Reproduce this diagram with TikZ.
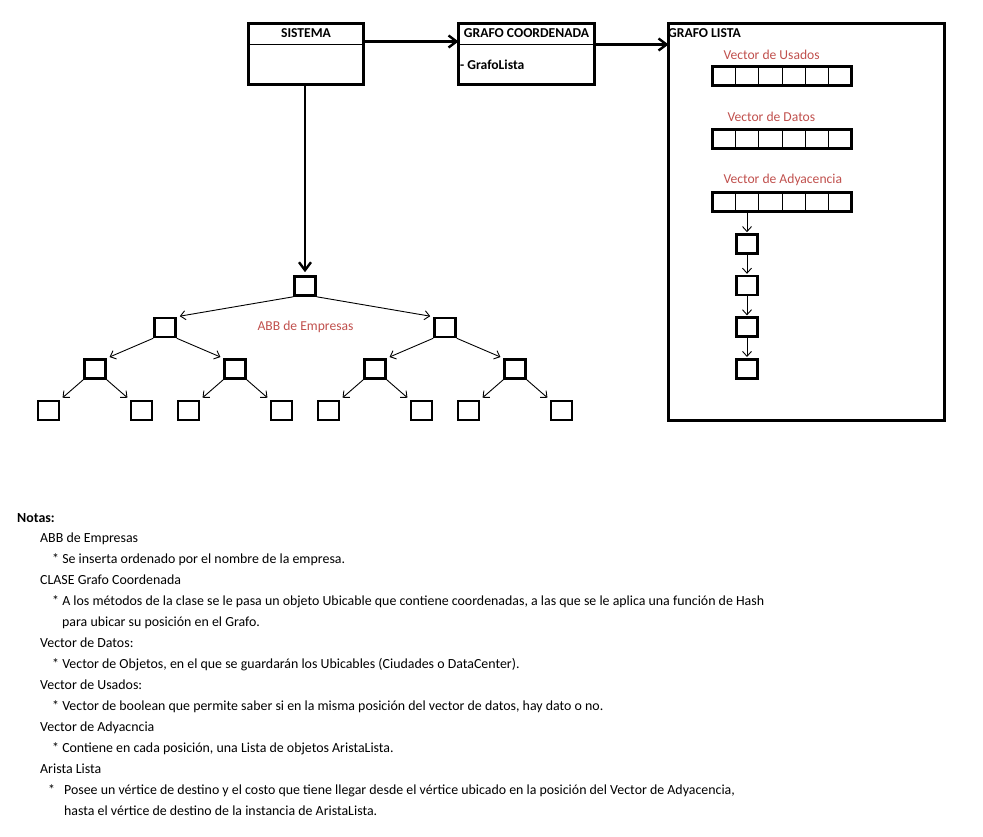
\documentclass[tikz,border=0pt]{standalone}
\usepackage{fontspec}
\setmainfont{Carlito}
\usetikzlibrary{positioning,calc,arrows.meta}

\definecolor{rojoetiq}{RGB}{192,80,77}

\tikzset{
    caja/.style={draw, line width=2.6pt, minimum width=21pt, minimum height=19pt, inner sep=0pt},
    clase/.style={draw, line width=2.7pt, outer sep=0pt, inner sep=0pt},
    vector/.style={draw, line width=2.7pt, outer sep=0pt, inner sep=0pt, minimum width=139pt, minimum height=19pt},
    titulo/.style={font=\fontsize{13.6}{16}\selectfont\bfseries},
    etiqueta/.style={text=rojoetiq, anchor=west},
    nota/.style={anchor=west, inner sep=0pt, text height=1.5ex, text depth=.25ex, font=\fontsize{13.9}{16}\selectfont},
    flecha/.style={line width=2.4pt, -{Straight Barb[length=8pt,width=12pt]}},
    flechita/.style={line width=0.9pt, -{Straight Barb[length=5pt,width=9pt]}},
    izq/.style={edge from parent path={(\tikzparentnode.south west) -- (\tikzchildnode.north east)}},
    der/.style={edge from parent path={(\tikzparentnode.south east) -- (\tikzchildnode.north west)}},
}

\begin{document}
\begin{tikzpicture}[
        x=1pt, y=1pt,
        every node/.style={font=\fontsize{13.6}{16}\selectfont},
        edge from parent/.style={draw, flechita, shorten >=3pt},
        level distance=41.5pt,
        level 1/.style={sibling distance=280pt},
        level 2/.style={sibling distance=140pt},
        level 3/.style={sibling distance=93pt},
    ]
    \useasboundingbox (0,0) rectangle (983,-837);

    % clases de arriba
    \node[clase, minimum width=115pt, minimum height=61pt] (sistema) at (306,-54) {};
    \node[titulo] (sistemaT) at ($(sistema.north)+(0,-10)$) {SISTEMA};
    \draw[line width=1.6pt] ($(sistema.north west)+(0,-21)$) -- ($(sistema.north east)+(0,-21)$);

    \node[clase, minimum width=136pt, minimum height=61pt] (grafo) at (526.5,-54) {};
    \node[titulo] (grafoT) at ($(grafo.north)+(0,-10)$) {GRAFO COORDENADA};
    \draw[line width=1.6pt] ($(grafo.north west)+(0,-21)$) -- ($(grafo.north east)+(0,-21)$);
    \node[titulo, anchor=west, inner sep=0pt] (atrib) at ($(grafo.west)+(1.5,-11)$) {- GrafoLista};

    \node[clase, minimum width=276pt, minimum height=397pt] (lista) at (806.5,-222) {};
    \node[titulo, anchor=west, inner sep=0pt] (listaT) at (668,-33) {GRAFO LISTA};

    \draw[flecha] ($(sistema.north east)+(0,-18)$) -- ($(grafo.north west)+(0,-18)$);
    \draw[flecha] ($(grafo.north east)+(0,-21)$) -- ($(lista.north west)+(0,-21)$);

    % vectores del grafo lista
    \node[etiqueta] (usadosT) at (720,-55) {Vector de Usados};
    \node[vector] (usados) at (782,-76) {};
    \node[etiqueta] (datosT) at (724,-117) {Vector de Datos};
    \node[vector] (datos) at (782,-139) {};
    \node[etiqueta] (adyT) at (720,-180) {Vector de Adyacencia};
    \node[vector] (ady) at (782,-202) {};
    \foreach \v in {usados,datos,ady}
        \foreach \i in {1,...,5}
            \draw[line width=0.8pt] ($(\v.north west)!\i/6!(\v.north east)$) -- ($(\v.south west)!\i/6!(\v.south east)$);

    % lista de adyacencia
    \node[caja] (n1) at (747,-244) {};
    \node[caja, below=20pt of n1] (n2) {};
    \node[caja, below=20pt of n2] (n3) {};
    \node[caja, below=20pt of n3] (n4) {};
    \draw[flechita, shorten >=1pt] (n1 |- ady.south) -- (n1.north);
    \draw[flechita, shorten >=1pt] (n1) -- (n2);
    \draw[flechita, shorten >=1pt] (n2) -- (n3);
    \draw[flechita, shorten >=1pt] (n3) -- (n4);

    % ABB
    \node[caja] (raiz) at (305,-286) {}
    child[izq] {
        node[caja] (a) {}
        child[izq] {
            node[caja] (aa) {}
            child[izq] {node[caja] (aaa) {}}
            child[der] {node[caja] (aab) {}}
        }
        child[der] {
            node[caja] (ab) {}
            child[izq] {node[caja] (aba) {}}
            child[der] {node[caja] (abb) {}}
        }
    }
    child[der] {
        node[caja] (b) {}
        child[izq] {
            node[caja] (ba) {}
            child[izq] {node[caja] (baa) {}}
            child[der] {node[caja] (bab) {}}
        }
        child[der] {
            node[caja] (bb) {}
            child[izq] {node[caja] (bba) {}}
            child[der] {node[caja] (bbb) {}}
        }
    };
    \node[text=rojoetiq] (abbT) at (305.5,-327) {ABB de Empresas};
    \draw[flecha, shorten >=3pt] (raiz.north |- sistema.south) -- (raiz.north);

    % notas
    \node[nota, font=\fontsize{13.9}{16}\selectfont\bfseries] (notas) at (17,-520) {Notas:};
    \node[nota] (n01) at (40,-540) {ABB de Empresas};
    \node[nota] (n02) at (52,-561) {*\ Se inserta ordenado por el nombre de la empresa.};
    \node[nota] (n03) at (40,-582) {CLASE Grafo Coordenada};
    \node[nota] (n04) at (52,-603) {*\ A los métodos de la clase se le pasa un objeto Ubicable que contiene coordenadas, a las que se le aplica una función de Hash};
    \node[nota] (n05) at (62,-624) {para ubicar su posición en el Grafo.};
    \node[nota] (n06) at (40,-645) {Vector de Datos:};
    \node[nota] (n07) at (52,-666) {*\ Vector de Objetos, en el que se guardarán los Ubicables (Ciudades o DataCenter).};
    \node[nota] (n08) at (40,-687) {Vector de Usados:};
    \node[nota] (n09) at (52,-708) {*\ Vector de boolean que permite saber si en la misma posición del vector de datos, hay dato o no.};
    \node[nota] (n10) at (40,-729) {Vector de Adyacncia};
    \node[nota] (n11) at (52,-750) {*\ Contiene en cada posición, una Lista de objetos AristaLista.};
    \node[nota] (n12) at (40,-771) {Arista Lista};
    \node[nota] (n13) at (48,-792) {*\hspace{9pt}Posee un vértice de destino y el costo que tiene llegar desde el vértice ubicado en la posición del Vector de Adyacencia,};
    \node[nota] (n14) at (64,-813) {hasta el vértice de destino de la instancia de AristaLista.};
\end{tikzpicture}
\end{document}
